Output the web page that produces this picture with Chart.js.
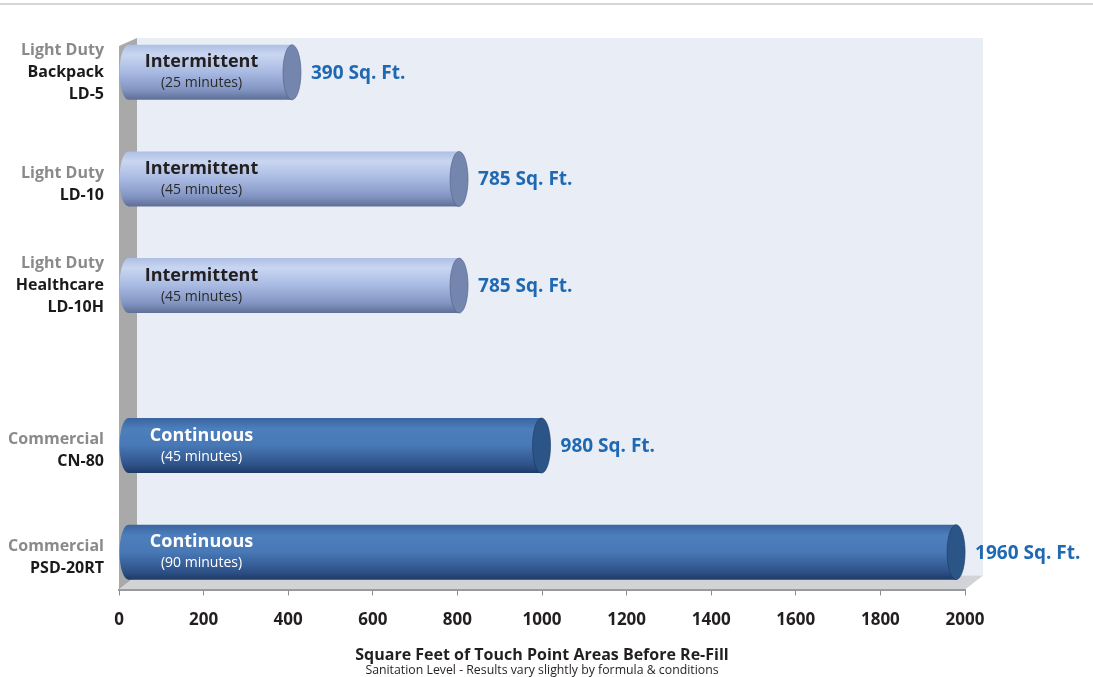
<!DOCTYPE html>
<html>
<head>
<meta charset="utf-8">
<script src="https://cdn.jsdelivr.net/npm/chart.js@4.4.0/dist/chart.umd.min.js"></script>
<style>
  html, body { margin: 0; background: #fff; }
  #wrap { width: 1093px; height: 677px; }
</style>
</head>
<body>
<div id="wrap"><canvas id="chart"></canvas></div>
<script>
// sprayer models vs. area covered before re-fill
const groups   = ['Light Duty', 'Light Duty', 'Light Duty', 'Commercial', 'Commercial'];
const models   = [['Backpack', 'LD-5'], ['LD-10'], ['Healthcare', 'LD-10H'], ['CN-80'], ['PSD-20RT']];
const rowPos   = [0, 1, 2, 3.5, 4.5];
const sqFt     = [390, 785, 785, 980, 1960];
const modes    = ['Intermittent', 'Intermittent', 'Intermittent', 'Continuous', 'Continuous'];
const runTimes = ['(25 minutes)', '(45 minutes)', '(45 minutes)', '(45 minutes)', '(90 minutes)'];
const xMin = 0, xMax = 2000, xStep = 200;

const FONT = '"Open Sans", "Noto Sans", sans-serif';
const DEPTH = 18, DEPTH_Y = 14;

function cylinder(ctx, left, right, y, h, light) {
  const rx = 9, top = y - h / 2, bot = y + h / 2;
  const g = ctx.createLinearGradient(0, top, 0, bot);
  if (light) {
    g.addColorStop(0, '#aebfe4');
    g.addColorStop(0.18, '#c9d6f1');
    g.addColorStop(0.5, '#a8bae2');
    g.addColorStop(0.82, '#8294c2');
    g.addColorStop(1, '#5e6e96');
  } else {
    g.addColorStop(0, '#3a64a0');
    g.addColorStop(0.2, '#4d7fbd');
    g.addColorStop(0.5, '#4878b5');
    g.addColorStop(0.85, '#2e5288');
    g.addColorStop(1, '#1f3b66');
  }
  ctx.save();
  ctx.beginPath();
  ctx.moveTo(right - rx, top);
  ctx.lineTo(left + rx, top);
  ctx.ellipse(left + rx, y, rx, h / 2, 0, -Math.PI / 2, Math.PI / 2, true);
  ctx.lineTo(right - rx, bot);
  ctx.closePath();
  ctx.fillStyle = g;
  ctx.fill();
  // end cap
  ctx.beginPath();
  ctx.ellipse(right - rx, y, rx, h / 2, 0, 0, Math.PI * 2);
  ctx.fillStyle = light ? '#7485ae' : '#2c5587';
  ctx.fill();
  ctx.strokeStyle = light ? 'rgba(80,95,135,0.6)' : 'rgba(30,55,95,0.6)';
  ctx.lineWidth = 1;
  ctx.stroke();
  ctx.restore();
}

const stage = {
  id: 'stage',
  beforeDraw(chart) {
    const { ctx, chartArea: a, scales: { x } } = chart;
    const x0 = x.getPixelForValue(xMin), x1 = x.getPixelForValue(xMax);
    const wallTop = a.top + 19;
    ctx.save();
    // header rule
    ctx.fillStyle = '#d6d6d6';
    ctx.fillRect(0, 3, chart.width, 2);
    // back wall
    ctx.fillStyle = '#e9edf6';
    ctx.fillRect(x0 + DEPTH, wallTop, x1 - x0, a.bottom - DEPTH_Y - wallTop);
    // left wall
    ctx.beginPath();
    ctx.moveTo(x0, wallTop + 8);
    ctx.lineTo(x0 + DEPTH, wallTop);
    ctx.lineTo(x0 + DEPTH, a.bottom - DEPTH_Y);
    ctx.lineTo(x0, a.bottom);
    ctx.closePath();
    ctx.fillStyle = '#a9a9a9';
    ctx.fill();
    // floor
    ctx.beginPath();
    ctx.moveTo(x0, a.bottom);
    ctx.lineTo(x0 + DEPTH, a.bottom - DEPTH_Y);
    ctx.lineTo(x1 + DEPTH, a.bottom - DEPTH_Y);
    ctx.lineTo(x1, a.bottom);
    ctx.closePath();
    ctx.fillStyle = '#d2d3d6';
    ctx.fill();
    ctx.restore();
  },
  afterDatasetsDraw(chart) {
    const { ctx, scales: { x } } = chart;
    const x0 = x.getPixelForValue(xMin);
    const bars = chart.getDatasetMeta(0).data;
    bars.forEach((el, i) => {
      const { x: end, y, base, height } = el.getProps(['x', 'y', 'base', 'height'], true);
      const light = modes[i] === 'Intermittent';
      const right = end + 17;
      cylinder(ctx, base, right, y, height, light);

      ctx.save();
      ctx.textAlign = 'center';
      ctx.textBaseline = 'middle';
      ctx.fillStyle = light ? '#231f20' : '#ffffff';
      ctx.font = 'bold 18px ' + FONT;
      ctx.fillText(modes[i], base + 82, y - 10);
      ctx.font = '14px ' + FONT;
      ctx.fillStyle = light ? '#2a2a2a' : '#ffffff';
      ctx.fillText(runTimes[i], base + 82, y + 11);

      // value label
      ctx.textAlign = 'left';
      ctx.fillStyle = '#1f69b3';
      ctx.font = 'bold 19px ' + FONT;
      ctx.fillText(sqFt[i] + ' Sq. Ft.', right + 10, y + 1);

      // category label
      const lines = [groups[i]].concat(models[i]);
      const lh = 22;
      const startY = y - (lines.length - 1) * lh / 2 + (lines.length === 2 ? 5 : 0);
      ctx.textAlign = 'right';
      ctx.font = 'bold 16px ' + FONT;
      lines.forEach((t, k) => {
        ctx.fillStyle = k === 0 ? '#8a8a8a' : '#1a1a1a';
        ctx.fillText(t, x0 - 15, startY + k * lh);
      });
      ctx.restore();
    });
  }
};

new Chart(document.getElementById('chart'), {
  type: 'bar',
  data: {
    datasets: [{
      data: rowPos.map((p, i) => ({ x: sqFt[i], y: p })),
      backgroundColor: 'rgba(0,0,0,0)',
      borderWidth: 0,
      barThickness: 55
    }]
  },
  options: {
    indexAxis: 'y',
    responsive: true,
    maintainAspectRatio: false,
    animation: false,
    layout: { padding: { left: 119, right: 128, top: 19, bottom: 0 } },
    plugins: {
      legend: { display: false },
      tooltip: { enabled: false },
      subtitle: {
        display: true,
        position: 'bottom',
        text: 'Sanitation Level - Results vary slightly by formula & conditions',
        color: '#231f20',
        font: { family: FONT, size: 12.3, lineHeight: 1.0 },
        padding: { top: 0, bottom: 0 }
      }
    },
    scales: {
      y: { type: 'linear', display: false, reverse: true, offset: false, min: -0.5, max: 4.85 },
      x: {
        type: 'linear',
        min: xMin, max: xMax,
        ticks: {
          stepSize: xStep,
          color: '#231f20',
          font: { family: FONT, size: 17, weight: 'bold', lineHeight: 1.0 },
          padding: 16,
          callback: v => String(v)
        },
        grid: { display: true, drawOnChartArea: false, drawTicks: true, tickLength: 6, color: '#8c8c8c' },
        border: { display: true, color: '#9a9a9a', width: 2 },
        title: {
          display: true,
          text: 'Square Feet of Touch Point Areas Before Re-Fill',
          color: '#231f20',
          font: { family: FONT, size: 16, weight: 'bold' },
          padding: { top: 1, bottom: 0 }
        }
      }
    }
  },
  plugins: [stage]
});
</script>
</body>
</html>
